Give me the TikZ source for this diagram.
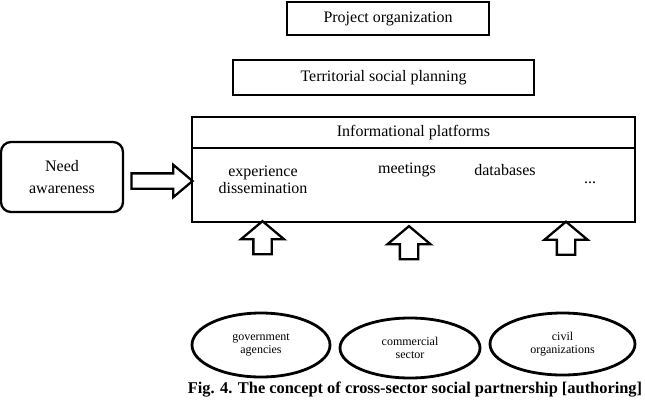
\documentclass[tikz,border=0pt]{standalone}
\usepackage{fontspec}
\setmainfont{Liberation Serif}
\usepackage{tikz}
\usetikzlibrary{positioning, calc, shapes.geometric, shapes.arrows}

\begin{document}
\begin{tikzpicture}[
    x=1pt, y=-1pt,
    level/.style={rectangle, draw, line width=2.3pt, inner sep=0pt, outer sep=0pt,
                  font=\fontsize{16}{18}\selectfont},
    item/.style={font=\fontsize{16}{17}\selectfont, align=center, inner sep=0pt},
    sector/.style={ellipse, draw, line width=2.8pt, inner sep=0pt, align=center,
                   font=\fontsize{12}{13}\selectfont},
    rightArrow/.style={single arrow, draw, line width=2.3pt, inner xsep=0pt, inner ysep=6.5pt,
                       minimum height=61pt, single arrow head extend=8.5pt,
                       single arrow tip angle=80},
    upArrow/.style={single arrow, draw, line width=2.3pt, inner xsep=0pt, inner ysep=8pt,
                    minimum height=33pt, rotate=90, single arrow head extend=12.5pt,
                    single arrow tip angle=100},
  ]
    \useasboundingbox (0,0) rectangle (645,402);

    % Upper levels
    \node[level, line width=2pt, minimum width=202pt, minimum height=33pt] (proj) at (388,18.5) {Project organization};
    \node[level, minimum width=301pt, minimum height=35pt] (terr) at (383.5,77.5) {Territorial social planning};

    % Informational platforms
    \node[level, minimum width=443pt, minimum height=31pt] (infohead) at (413.5,132.5) {Informational platforms};
    \node[level, minimum width=443pt, minimum height=74pt, below=0pt of infohead] (infobody) {};
    \node[item] (exper) at (263,180) {experience\\[0pt]dissemination};
    \node[item] (meet) at (407,170) {meetings};
    \node[item] (datab) at (505,170) {databases};
    \node[item] (more) at (590,183) {...};

    % Need awareness
    \node[level, rounded corners=10pt, minimum width=122pt, minimum height=70pt, align=center]
      (need) at (62,177) {Need\\[4pt]awareness};
    \node[rightArrow] (needArr) at ($(need.east)!0.5!(infobody.west)$) {};

    % Sectors
    \node[sector, minimum width=138pt, minimum height=64pt] (gov) at (261,345) {government\\agencies};
    \node[sector, minimum width=140pt, minimum height=60pt] (comm) at (410,348) {commercial\\sector};
    \node[sector, minimum width=145pt, minimum height=62pt] (civil) at (562.5,344) {civil\\organizations};

    \node[upArrow] (govArr) at (262.5,241.5) {};
    \node[upArrow] (commArr) at (409,246.5) {};
    \node[upArrow] (civilArr) at (566,242) {};

    \node[font=\fontsize{16.4}{18}\selectfont\bfseries, inner sep=0pt] (caption) at (415,390)
      {Fig. 4. The concept of cross-sector social partnership [authoring]};
  \end{tikzpicture}
\end{document}
